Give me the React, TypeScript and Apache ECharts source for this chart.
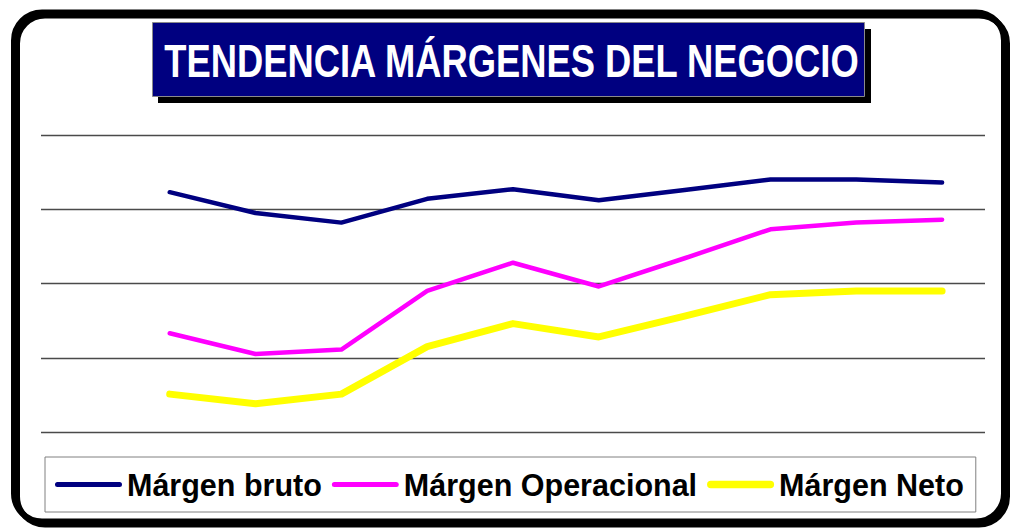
import React, { useEffect, useRef } from "react";
import * as echarts from "echarts";

const TITLE = "TENDENCIA MÁRGENES DEL NEGOCIO";
const categories = ["P0", "P1", "P2", "P3", "P4", "P5", "P6", "P7", "P8", "P9", "P10"];
const seriesNames = ["Márgen bruto", "Márgen Operacional", "Márgen Neto"];
const margenBruto = [null, 32.3, 29.5, 28.2, 31.4, 32.7, 31.2, 32.6, 34.0, 34.0, 33.6];
const margenOperacional = [null, 13.3, 10.5, 11.1, 19.0, 22.8, 19.6, 23.4, 27.3, 28.2, 28.6];
const margenNeto = [null, 5.1, 3.8, 5.1, 11.5, 14.6, 12.8, 15.6, 18.5, 19.0, 19.0];
const yTicks = [0, 10, 20, 30, 40];

const COLORS = ["#000080", "#FF00FF", "#FFFF00"];
const WIDTHS = [4.5, 4.5, 7];
const FONT = '"Liberation Sans", Arial, sans-serif';

function measureTitle(size: number): number {
  const c = document.createElement("canvas").getContext("2d");
  if (!c) return 19.17 * size;
  c.font = `bold ${size}px "Liberation Sans", Arial, sans-serif`;
  return c.measureText(TITLE).width;
}

function lineIcon(w: number, h: number): string {
  const r = h / 2;
  return `path://M${r},0 L${w - r},0 A${r},${r} 0 0 1 ${w - r},${h} L${r},${h} A${r},${r} 0 0 1 ${r},0 Z`;
}

export default function App() {
  const ref = useRef<HTMLDivElement>(null);
  useEffect(() => {
    if (!ref.current) return;
    const chart = echarts.init(ref.current, undefined, { renderer: "svg" });
    const titleSize = 46;
    const targetW = 697;
    const scaleX = targetW / measureTitle(titleSize);
    const dataSets = [margenBruto, margenOperacional, margenNeto];
    chart.setOption({
      animation: false,
      backgroundColor: "#ffffff",
      grid: { left: 41, right: 26, top: 135, bottom: 97 },
      xAxis: {
        type: "category",
        data: categories,
        boundaryGap: true,
        axisLine: { show: false },
        axisTick: { show: false },
        axisLabel: { show: false },
        splitLine: { show: false },
      },
      yAxis: {
        type: "value",
        min: yTicks[0],
        max: yTicks[yTicks.length - 1],
        interval: yTicks[1] - yTicks[0],
        axisLine: { show: false },
        axisTick: { show: false },
        axisLabel: { show: false },
        splitLine: { show: true, lineStyle: { color: "#4a4a4a", width: 1.3 } },
      },
      legend: {
        left: 45,
        top: 457,
        padding: [12, 12, 12, 10],
        itemWidth: 67,
        itemHeight: 14,
        itemGap: 10,
        borderColor: "#808080",
        borderWidth: 1,
        backgroundColor: "#ffffff",
        textStyle: { fontFamily: FONT, fontWeight: "bold", fontSize: 30.5, color: "#000000" },
        data: seriesNames.map((n, i) => ({
          name: n,
          icon: lineIcon(67, WIDTHS[i] + 0.5),
          itemStyle: { color: COLORS[i], borderWidth: 0 },
        })),
      },
      series: seriesNames.map((n, i) => ({
        name: n,
        type: "line",
        data: dataSets[i],
        symbol: "none",
        showSymbol: false,
        color: COLORS[i],
        lineStyle: { color: COLORS[i], width: WIDTHS[i], cap: "round", join: "round" },
        z: 3 - i,
      })),
      graphic: [
        {
          type: "rect",
          shape: { x: 17, y: 15.5, width: 990, height: 509, r: 28 },
          style: { fill: "none", stroke: "#000000", lineWidth: 6 },
          z: 10,
        },
        {
          type: "rect",
          shape: { x: 14, y: 12.5, width: 990, height: 509, r: 28 },
          style: { fill: "none", stroke: "#000000", lineWidth: 6 },
          z: 11,
        },
        {
          type: "rect",
          shape: { x: 158, y: 29, width: 713, height: 74 },
          style: { fill: "#000000" },
          z: 12,
        },
        {
          type: "rect",
          shape: { x: 152.5, y: 22.5, width: 712, height: 74 },
          style: { fill: "#000080", stroke: "#8a8a8a", lineWidth: 1 },
          z: 13,
        },
        {
          type: "text",
          x: 511.5,
          y: 61,
          scaleX: scaleX,
          style: {
            text: TITLE,
            x: 0,
            y: 0,
            align: "center",
            verticalAlign: "middle",
            fill: "#ffffff",
            font: `bold ${titleSize}px ${FONT}`,
          },
          z: 14,
        },
      ],
    });
    return () => chart.dispose();
  }, []);
  return (
    <div
      ref={ref}
      style={{ position: "absolute", left: 0, top: 0, width: 1011, height: 529, background: "#ffffff" }}
    />
  );
}
